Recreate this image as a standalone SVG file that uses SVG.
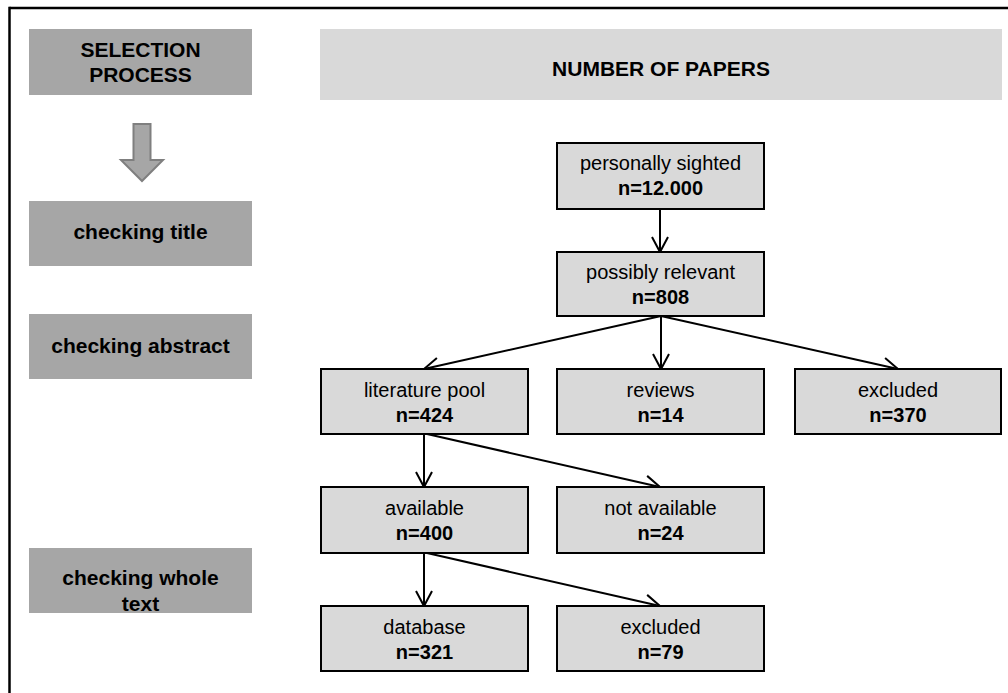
<svg xmlns="http://www.w3.org/2000/svg" width="1008" height="693" viewBox="0 0 1008 693">
  <style>
    .label { fill: #a6a6a6; }
    .header { fill: #d9d9d9; }
    .node rect { fill: #d9d9d9; stroke: #000; stroke-width: 2; }
    text { font-family: "Liberation Sans", Arial, sans-serif; fill: #000; text-anchor: middle; }
    .hd { font-size: 21px; font-weight: bold; }
    .t1 { font-size: 20px; }
    .t2 { font-size: 20px; font-weight: bold; }
    .conn line { stroke: #000; stroke-width: 2; marker-end: url(#open); }
  </style>
  <defs>
    <marker id="open" markerUnits="userSpaceOnUse" markerWidth="20" markerHeight="20" viewBox="-16 -10 20 20" refX="0" refY="0" orient="auto">
      <path d="M-15,-8 L0,0 L-15,8" fill="none" stroke="#000" stroke-width="2"/>
    </marker>
  </defs>

  <rect width="1008" height="693" fill="#fff"/>

  <!-- frame -->
  <g id="frame" stroke="#000" stroke-width="2.5" fill="none">
    <line x1="9.5" y1="8" x2="1008" y2="8"/>
    <line x1="9.5" y1="6.75" x2="9.5" y2="693"/>
  </g>

  <!-- left column: selection steps -->
  <g id="selection-process">
    <rect class="label" x="29" y="29" width="223" height="66"/>
    <text class="hd" x="140.5" y="57">SELECTION</text>
    <text class="hd" x="140.5" y="82">PROCESS</text>
  </g>
  <g id="process-arrow">
    <path d="M133.5,124 H150.5 V160 H163 L142,181 L121,160 H133.5 Z" fill="#a6a6a6" stroke="#7f7f7f" stroke-width="2"/>
  </g>
  <g id="checking-title">
    <rect class="label" x="29" y="201" width="223" height="65"/>
    <text class="hd" x="140.5" y="239">checking title</text>
  </g>
  <g id="checking-abstract">
    <rect class="label" x="29" y="314" width="223" height="65"/>
    <text class="hd" x="140.5" y="353">checking abstract</text>
  </g>
  <g id="checking-whole-text">
    <rect class="label" x="29" y="548" width="223" height="65"/>
    <text class="hd" x="140.5" y="585">checking whole</text>
    <text class="hd" x="140.5" y="611">text</text>
  </g>

  <!-- right column header -->
  <g id="number-of-papers">
    <rect class="header" x="320" y="29" width="682" height="71"/>
    <text class="hd" x="661" y="76">NUMBER OF PAPERS</text>
  </g>

  <!-- connectors -->
  <g id="connectors" class="conn">
    <line x1="660" y1="209" x2="660" y2="252"/>
    <line x1="661" y1="316" x2="424" y2="369"/>
    <line x1="661" y1="316" x2="661" y2="369"/>
    <line x1="661" y1="316" x2="898" y2="369"/>
    <line x1="424" y1="434" x2="424" y2="487"/>
    <line x1="427" y1="434" x2="660" y2="487"/>
    <line x1="424" y1="553" x2="424" y2="606"/>
    <line x1="427" y1="553" x2="660" y2="606"/>
  </g>

  <!-- flow nodes -->
  <g id="personally-sighted" class="node">
    <rect x="557" y="143" width="207" height="66"/>
    <text class="t1" x="660.5" y="170">personally sighted</text>
    <text class="t2" x="660.5" y="195">n=12.000</text>
  </g>
  <g id="possibly-relevant" class="node">
    <rect x="557" y="252" width="207" height="64"/>
    <text class="t1" x="660.5" y="279">possibly relevant</text>
    <text class="t2" x="660.5" y="304">n=808</text>
  </g>
  <g id="literature-pool" class="node">
    <rect x="321" y="369" width="207" height="65"/>
    <text class="t1" x="424.5" y="397">literature pool</text>
    <text class="t2" x="424.5" y="422">n=424</text>
  </g>
  <g id="reviews" class="node">
    <rect x="557" y="369" width="207" height="65"/>
    <text class="t1" x="660.5" y="397">reviews</text>
    <text class="t2" x="660.5" y="422">n=14</text>
  </g>
  <g id="excluded-abstract" class="node">
    <rect x="795" y="369" width="206" height="65"/>
    <text class="t1" x="898" y="397">excluded</text>
    <text class="t2" x="898" y="422">n=370</text>
  </g>
  <g id="available" class="node">
    <rect x="321" y="487" width="207" height="66"/>
    <text class="t1" x="424.5" y="515">available</text>
    <text class="t2" x="424.5" y="540">n=400</text>
  </g>
  <g id="not-available" class="node">
    <rect x="557" y="487" width="207" height="66"/>
    <text class="t1" x="660.5" y="515">not available</text>
    <text class="t2" x="660.5" y="540">n=24</text>
  </g>
  <g id="database" class="node">
    <rect x="321" y="606" width="207" height="65"/>
    <text class="t1" x="424.5" y="634">database</text>
    <text class="t2" x="424.5" y="659">n=321</text>
  </g>
  <g id="excluded-text" class="node">
    <rect x="557" y="606" width="207" height="65"/>
    <text class="t1" x="660.5" y="634">excluded</text>
    <text class="t2" x="660.5" y="659">n=79</text>
  </g>
</svg>
